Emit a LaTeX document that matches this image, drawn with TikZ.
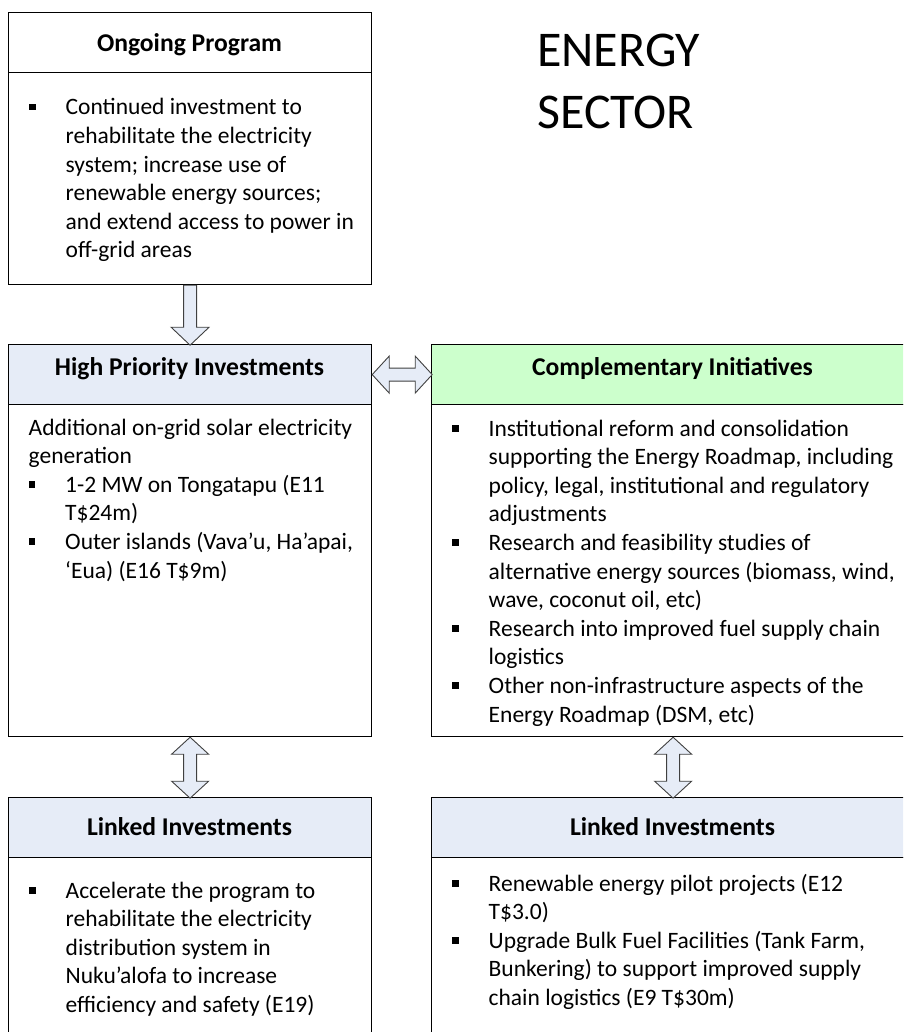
\documentclass[tikz,border=0pt]{standalone}
\usepackage{fontspec}
\setmainfont{Carlito}
\usepackage{tikz}
\usetikzlibrary{positioning, calc}
\definecolor{head-blue}{RGB}{230,236,247}
\definecolor{head-green}{RGB}{204,255,204}
\definecolor{edge-gray}{RGB}{64,64,64}
\newcommand{\bodysize}{\fontsize{23.5}{28.6}\selectfont}
\newcommand{\headsize}{\fontsize{25.6}{31}\selectfont}
\newcommand{\bitem}{\hangindent=36.5pt\hangafter=1\noindent\hbox to 36.5pt{\rule[4.5pt]{6.5pt}{6.5pt}\hfil}}
\newcommand{\nextitem}{\par\bitem}
\tikzset{
    box/.style = {draw=black, line width=1.2pt, anchor=north west, inner sep=0pt, fill=white},
    head/.style = {box, draw=black},
    title/.style = {font=\headsize\bfseries, anchor=base, inner sep=0pt},
    body/.style = {font=\bodysize, anchor=base west, inner sep=0pt, text width=#1, align=flush left},
    block arrow/.style = {draw=edge-gray, fill=head-blue, line width=0.9pt, line join=miter},
    pics/down arrow/.style = {
        code = {%
        \draw[block arrow] (-6.5,0) -- (-6.5,#1-18) -- (-19,#1-18) -- (0,#1)
            -- (19,#1-18) -- (6.5,#1-18) -- (6.5,0) -- cycle;
        }
    },
    pics/twin arrow/.style = {
        code = {%
        \draw[block arrow] (0,0) -- (-18.5,17) -- (-6.5,17) -- (-6.5,#1-17) -- (-18.5,#1-17)
            -- (0,#1) -- (18.5,#1-17) -- (6.5,#1-17) -- (6.5,17) -- (18.5,17) -- cycle;
        }
    },
}

\begin{document}
\begin{tikzpicture}[x=1pt,y=-1pt]

\useasboundingbox (0,0) rectangle (903,1032);
\clip (0,0) rectangle (903,1032);

% ongoing program
\node[box, minimum width=363, minimum height=212] (ongoing) at (8,72) {};
\node[head, minimum width=363, minimum height=60] (ongoingHead) at (8,12) {};
\node[title] (ongoingTitle) at (189.5,52) {Ongoing Program};
\node[body=340] (ongoingText) at (29,115) {\bitem Continued investment to\newline rehabilitate the electricity\newline system; increase use of\newline renewable energy sources;\newline and extend access to power in\newline off-grid areas\par};

\node[anchor=base west, inner sep=0pt, font=\fontsize{50}{61.5}\selectfont, text width=300, align=flush left] (sector) at (537,66.7) {ENERGY\newline SECTOR};

% high priority investments
\node[box, minimum width=363, minimum height=332] (hp) at (8,404) {};
\node[head, fill=head-blue, minimum width=363, minimum height=60] (hpHead) at (8,344) {};
\node[title] (hpTitle) at (189.5,375) {High Priority Investments};
\node[body=340] (hpText) at (28.5,435) {Additional on-grid solar electricity\newline generation\nextitem 1-2 MW on Tongatapu (E11\newline T\$24m)\nextitem Outer islands (Vava’u, Ha’apai,\newline ‘Eua) (E16 T\$9m)\par};

% complementary initiatives
\node[box, minimum width=483, minimum height=332] (ci) at (431,404) {};
\node[head, fill=head-green, minimum width=483, minimum height=60] (ciHead) at (431,344) {};
\node[title] (ciTitle) at (672.5,375) {Complementary Initiatives};
\node[body=470] (ciText) at (452,436) {\bitem Institutional reform and consolidation\newline supporting the Energy Roadmap, including\newline policy, legal, institutional and regulatory\newline adjustments\nextitem Research and feasibility studies of\newline alternative energy sources (biomass, wind,\newline wave, coconut oil, etc)\nextitem Research into improved fuel supply chain\newline logistics\nextitem Other non-infrastructure aspects of the\newline Energy Roadmap (DSM, etc)\par};

% linked investments
\node[box, minimum width=363, minimum height=200] (linkL) at (8,857) {};
\node[head, fill=head-blue, minimum width=363, minimum height=60] (linkLHead) at (8,797) {};
\node[title] (linkLTitle) at (189.5,835) {Linked Investments};
\node[body=340] (linkLText) at (29,898) {\bitem Accelerate the program to\newline rehabilitate the electricity\newline distribution system in\newline Nuku’alofa to increase\newline efficiency and safety (E19)\par};

\node[box, minimum width=483, minimum height=200] (linkR) at (431,857) {};
\node[head, fill=head-blue, minimum width=483, minimum height=60] (linkRHead) at (431,797) {};
\node[title] (linkRTitle) at (672.5,835) {Linked Investments};
\node[body=470] (linkRText) at (452,891) {\bitem Renewable energy pilot projects (E12\newline T\$3.0)\nextitem Upgrade Bulk Fuel Facilities (Tank Farm,\newline Bunkering) to support improved supply\newline chain logistics (E9 T\$30m)\par};

% block arrows
\pic at (ongoing.south) {down arrow=60};
\pic[rotate=90] at (hpHead.east) {twin arrow=60};
\pic at (hp.south) {twin arrow=61};
\pic at (ci.south) {twin arrow=61};

\end{tikzpicture}
\end{document}
